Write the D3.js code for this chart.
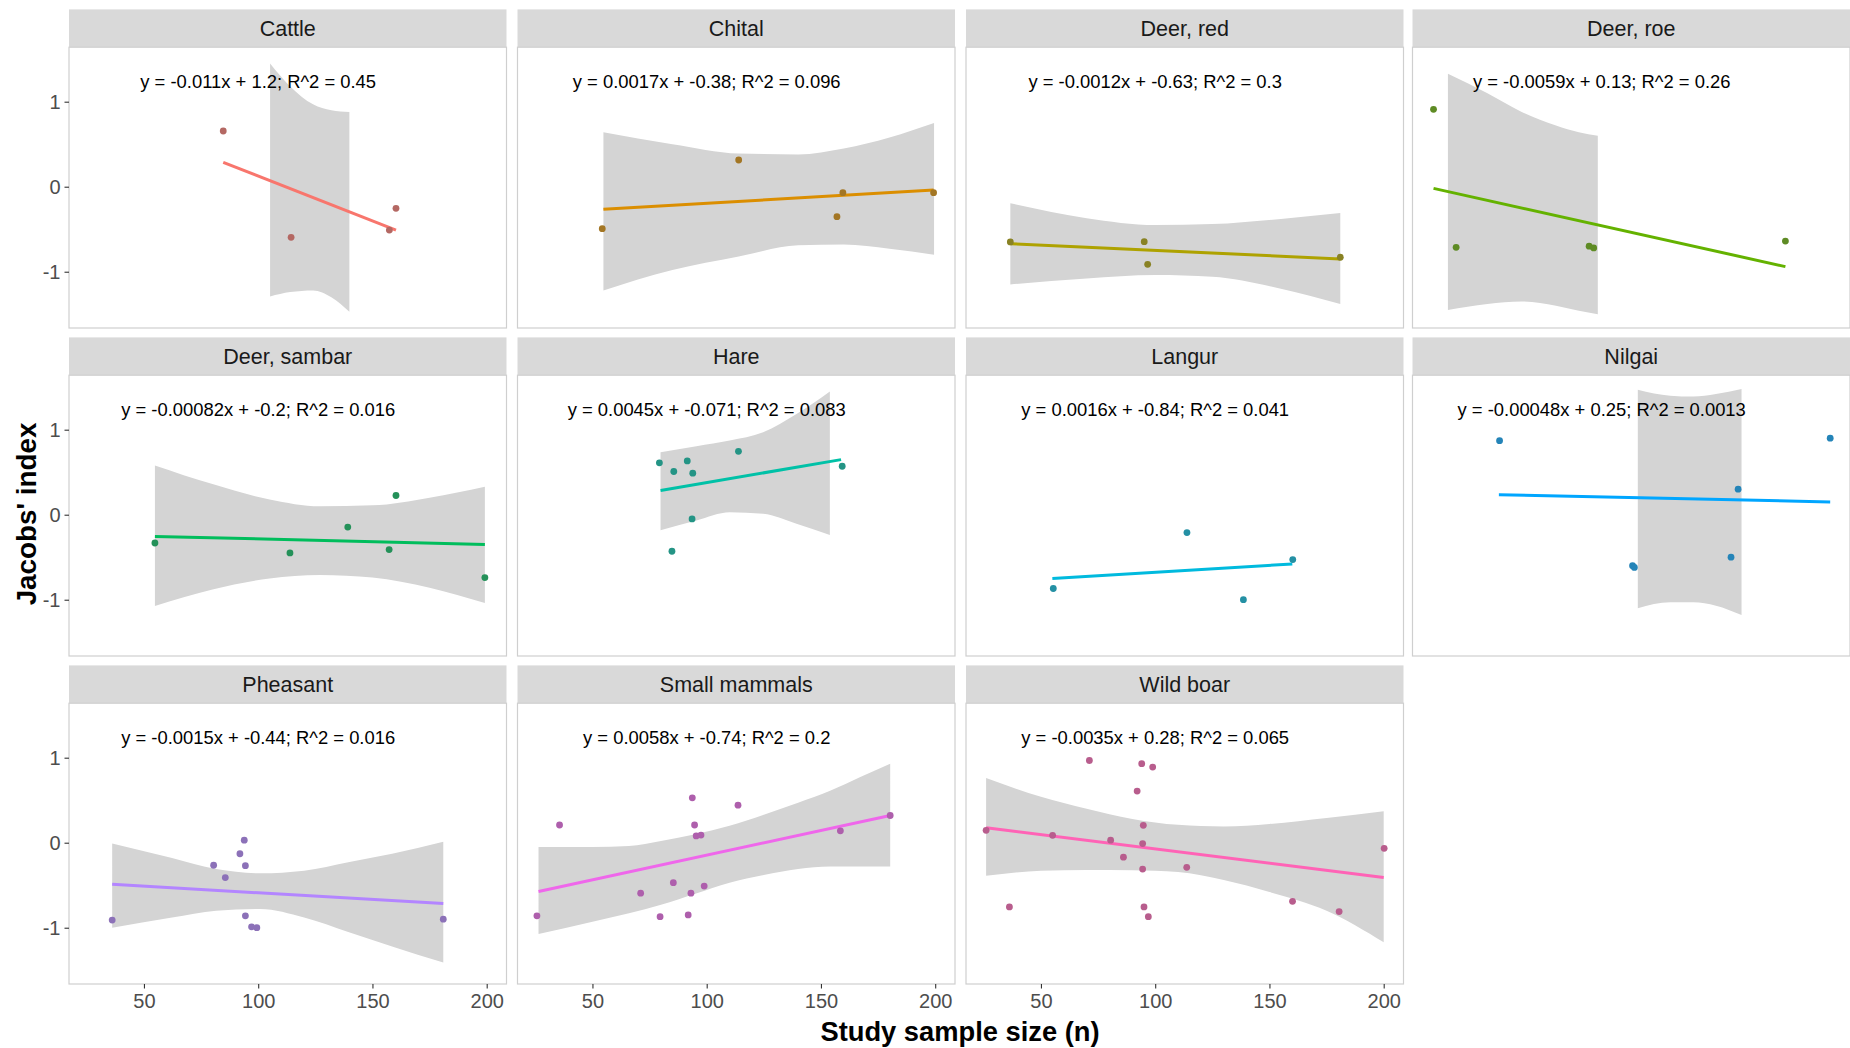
<!DOCTYPE html>
<html>
<head>
<meta charset="utf-8">
<script src="https://cdn.jsdelivr.net/npm/d3@7"></script>
<style>
  html, body { margin: 0; padding: 0; background: #ffffff; }
  svg text { font-family: "Liberation Sans", Arial, Helvetica, sans-serif; }
</style>
</head>
<body>
<svg id="chart" width="1850" height="1048"></svg>
<script>
// ---------------- data ----------------
const categories = ["Cattle", "Chital", "Deer, red", "Deer, roe", "Deer, sambar", "Hare",
  "Langur", "Nilgai", "Pheasant", "Small mammals", "Wild boar"];
const colors = ["#F8766D", "#DB8E00", "#AEA200", "#64B200", "#00BD5C", "#00C1A7",
  "#00BADE", "#00A6FF", "#B385FF", "#EF67EB", "#FF63B6"];
const equations = [
  "y = -0.011x + 1.2; R^2 = 0.45",
  "y = 0.0017x + -0.38; R^2 = 0.096",
  "y = -0.0012x + -0.63; R^2 = 0.3",
  "y = -0.0059x + 0.13; R^2 = 0.26",
  "y = -0.00082x + -0.2; R^2 = 0.016",
  "y = 0.0045x + -0.071; R^2 = 0.083",
  "y = 0.0016x + -0.84; R^2 = 0.041",
  "y = -0.00048x + 0.25; R^2 = 0.0013",
  "y = -0.0015x + -0.44; R^2 = 0.016",
  "y = 0.0058x + -0.74; R^2 = 0.2",
  "y = -0.0035x + 0.28; R^2 = 0.065"
];
const pointsX = [
  [84.7, 114.4, 157.4, 160.3],
  [54.3, 114.0, 157.0, 159.6, 199.3],
  [36.6, 95.2, 96.7, 181.0],
  [26.4, 36.3, 94.5, 96.5, 180.4],
  [54.8, 113.9, 139.2, 157.3, 160.3, 199.2],
  [79.3, 84.8, 85.6, 91.5, 93.6, 93.9, 113.9, 159.3],
  [55.4, 113.9, 138.6, 160.2],
  [55.3, 113.5, 114.3, 156.6, 159.7, 200.0],
  [36.1, 80.5, 85.6, 92.0, 93.9, 94.4, 94.4, 97.1, 99.4, 181.0],
  [25.7, 35.6, 71.1, 79.6, 85.4, 91.9, 93.1, 93.7, 94.7, 95.4, 97.5, 98.9, 113.7, 158.5, 180.3],
  [26.0, 36.2, 55.1, 71.2, 80.5, 86.1, 92.1, 94.1, 94.5, 94.5, 94.8, 95.1, 97.0, 98.9, 113.8, 160.1, 180.5, 200.2]
];
const pointsY = [
  [0.655, -0.595, -0.51, -0.254],
  [-0.494, 0.314, -0.353, -0.07, -0.07],
  [-0.65, -0.647, -0.913, -0.83],
  [0.91, -0.713, -0.70, -0.72, -0.64],
  [-0.333, -0.45, -0.145, -0.41, 0.226, -0.74],
  [0.61, -0.43, 0.508, 0.633, -0.05, 0.488, 0.746, 0.57],
  [-0.868, -0.21, -1.0, -0.528],
  [0.871, -0.60, -0.62, -0.50, 0.30, 0.90],
  [-0.91, -0.265, -0.41, -0.13, 0.03, -0.27, -0.86, -0.99, -1.0, -0.90],
  [-0.86, 0.208, -0.594, -0.87, -0.47, -0.85, -0.594, 0.528, 0.208, 0.08, 0.09, -0.51, 0.442, 0.14, 0.32],
  [0.146, -0.755, 0.087, 0.967, 0.03, -0.17, 0.607, 0.93, -0.01, -0.31, 0.204, -0.755, -0.87, 0.89, -0.29, -0.69, -0.81, -0.066]
];
const lineX = [
  [84.7, 160.3], [54.8, 199.3], [36.6, 181.0], [26.4, 180.4], [54.8, 199.2], [79.8, 158.8],
  [55.0, 160.0], [55.0, 200.0], [36.1, 181.0], [26.4, 180.3], [26.0, 200.0]
];
const lineY = [
  [0.287, -0.51], [-0.266, -0.04], [-0.67, -0.85], [-0.02, -0.94], [-0.255, -0.349], [0.285, 0.648],
  [-0.75, -0.58], [0.235, 0.15], [-0.49, -0.715], [-0.575, 0.32], [0.176, -0.41]
];
const ribbonX = [
  [105.2, 114, 124, 132, 139.9],
  [54.8, 85, 114, 140, 160, 180, 199.5],
  [36.6, 70, 100, 125, 155, 181],
  [32.7, 50, 65, 80, 90, 98.3],
  [54.8, 80, 105, 127, 150, 175, 199.2],
  [79.8, 95.5, 110.1, 124.7, 139.3, 153.9],
  [],
  [115.8, 130, 140, 150, 161.2],
  [36.1, 62.3, 81.6, 100.9, 120.1, 139.4, 158.6, 181],
  [26.4, 50, 66, 80, 95, 110, 125, 140, 154, 167, 180.3],
  [26, 50, 70, 90, 110, 130, 150, 175, 200]
];
const ribbonHi = [
  [1.45, 1.18, 0.97, 0.90, 0.88],
  [0.64, 0.50, 0.39, 0.38, 0.45, 0.58, 0.75],
  [-0.195, -0.37, -0.45, -0.44, -0.38, -0.31],
  [1.33, 1.10, 0.88, 0.72, 0.64, 0.60],
  [0.58, 0.36, 0.18, 0.10, 0.11, 0.20, 0.33],
  [0.734, 0.806, 0.873, 0.97, 1.184, 1.45],
  [],
  [1.47, 1.40, 1.39, 1.42, 1.48],
  [-0.01, -0.18, -0.31, -0.36, -0.33, -0.23, -0.13, 0.01],
  [-0.05, -0.05, -0.04, 0.02, 0.10, 0.20, 0.33, 0.47, 0.61, 0.77, 0.93],
  [0.76, 0.54, 0.40, 0.28, 0.21, 0.19, 0.22, 0.29, 0.37]
];
const ribbonLo = [
  [-1.29, -1.24, -1.22, -1.30, -1.47],
  [-1.22, -0.98, -0.82, -0.69, -0.68, -0.73, -0.80],
  [-1.15, -1.08, -1.04, -1.06, -1.20, -1.38],
  [-1.45, -1.38, -1.35, -1.40, -1.46, -1.50],
  [-1.075, -0.88, -0.75, -0.71, -0.74, -0.86, -1.04],
  [-0.184, -0.067, 0.03, 0.012, -0.105, -0.24],
  [],
  [-1.10, -1.03, -1.03, -1.07, -1.18],
  [-1.0, -0.88, -0.80, -0.78, -0.88, -1.05, -1.22, -1.41],
  [-1.075, -0.93, -0.83, -0.73, -0.60, -0.47, -0.38, -0.31, -0.28, -0.28, -0.28],
  [-0.39, -0.33, -0.32, -0.325, -0.345, -0.44, -0.58, -0.80, -1.17]
];
const xTicks = [50, 100, 150, 200];
const yTicks = [-1, 0, 1];
const yTickLabels = ["-1", "0", "1"];
const xTitle = "Study sample size (n)";
const yTitle = "Jacobs' index";

// ---------------- layout ----------------
const svg = d3.select("#chart");
const colL = [69, 517.5, 966, 1412.5];
const panelW = 437.5;
const rowT = [9.4, 337.4, 665.4];
const stripH = 37.8;
const panelH = 280.8;
const pxPerUnit = 2.285;

const x = d3.scaleLinear().domain([17.2, 17.2 + panelW / pxPerUnit]).range([0, panelW]);
const y = d3.scaleLinear().domain([-1.662, 1.641]).range([panelH, 0]);

const area = d3.area().curve(d3.curveMonotoneX)
  .x(d => x(d[0])).y0(d => y(d[1])).y1(d => y(d[2]));
const line = d3.line().x(d => x(d[0])).y(d => y(d[1]));

categories.forEach((cat, i) => {
  const col = i % 4, row = Math.floor(i / 4);
  const g = svg.append("g").attr("transform", `translate(${colL[col]},${rowT[row]})`);
  // strip
  g.append("rect").attr("x", 0).attr("y", 0).attr("width", panelW).attr("height", stripH)
    .attr("fill", "#d9d9d9");
  g.append("text").attr("x", panelW / 2).attr("y", stripH / 2 + 1)
    .attr("text-anchor", "middle").attr("dominant-baseline", "central")
    .attr("font-size", 21.5).attr("fill", "#1a1a1a").text(cat);

  const p = g.append("g").attr("transform", `translate(0,${stripH})`);
  const clipId = "clip" + i;
  p.append("clipPath").attr("id", clipId).append("rect")
    .attr("width", panelW).attr("height", panelH);
  const inner = p.append("g").attr("clip-path", `url(#${clipId})`);

  // ribbon
  const rib = ribbonX[i].map((xv, k) => [xv, ribbonLo[i][k], ribbonHi[i][k]]);
  if (rib.length) {
    inner.append("path").datum(rib).attr("d", area).attr("fill", "#d4d4d4");
  }
  // fit line
  const ln = lineX[i].map((xv, k) => [xv, lineY[i][k]]);
  inner.append("path").datum(ln).attr("d", line).attr("fill", "none")
    .attr("stroke", colors[i]).attr("stroke-width", 3);
  // points
  const ptColor = d3.interpolateRgb(colors[i], "#555555")(0.42);
  inner.selectAll("circle").data(pointsX[i].map((xv, k) => [xv, pointsY[i][k]]))
    .join("circle").attr("cx", d => x(d[0])).attr("cy", d => y(d[1])).attr("r", 3.4)
    .attr("fill", ptColor);
  // equation
  p.append("text").attr("x", x(100)).attr("y", y(1.235))
    .attr("text-anchor", "middle").attr("dominant-baseline", "central")
    .attr("font-size", 18.4).attr("fill", "#000").text(equations[i]);
  // border
  p.append("rect").attr("width", panelW).attr("height", panelH)
    .attr("fill", "none").attr("stroke", "#cfcfcf").attr("stroke-width", 1.2);

  // y axis (first column)
  if (col === 0) {
    const ay = p.append("g").call(d3.axisLeft(y).tickValues(yTicks).tickSize(4.5).tickPadding(4)
      .tickFormat((d, k) => yTickLabels[k]));
    ay.select(".domain").remove();
    ay.selectAll("line").attr("stroke", "#333333").attr("stroke-width", 1.1);
    ay.selectAll("text").attr("font-size", 20).attr("fill", "#4d4d4d")
      .style("font-family", '"Liberation Sans", Arial, sans-serif');
  }
  // x axis (bottom row)
  if (row === 2) {
    const ax = p.append("g").attr("transform", `translate(0,${panelH})`)
      .call(d3.axisBottom(x).tickValues(xTicks).tickSize(4.5).tickPadding(5));
    ax.select(".domain").remove();
    ax.selectAll("line").attr("stroke", "#333333").attr("stroke-width", 1.1);
    ax.selectAll("text").attr("font-size", 20).attr("fill", "#4d4d4d")
      .style("font-family", '"Liberation Sans", Arial, sans-serif');
  }
});

// axis titles
svg.append("text").attr("x", 960).attr("y", 1031)
  .attr("text-anchor", "middle").attr("dominant-baseline", "central")
  .attr("font-size", 27.3).attr("font-weight", "bold").attr("fill", "#000").text(xTitle);
svg.append("text").attr("transform", "translate(26,514) rotate(-90)")
  .attr("text-anchor", "middle").attr("dominant-baseline", "central")
  .attr("font-size", 27.8).attr("font-weight", "bold").attr("fill", "#000").text(yTitle);
</script>
</body>
</html>
